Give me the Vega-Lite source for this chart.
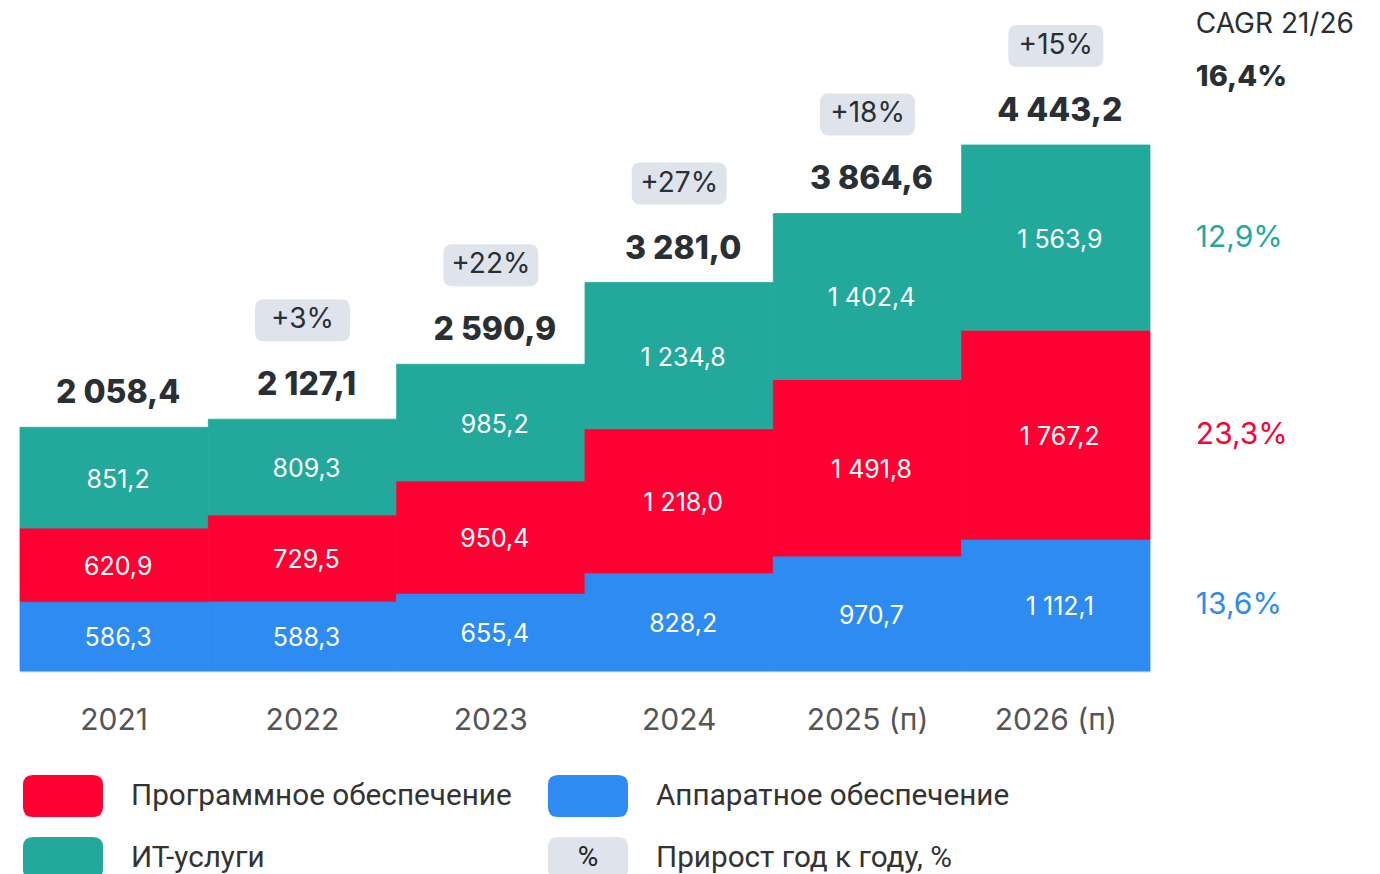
{
  "$schema": "https://vega.github.io/schema/vega-lite/v6.json",
  "width": 1130,
  "height": 671,
  "autosize": {"type": "none"},
  "padding": {"left": 20, "top": 0, "right": 230, "bottom": 203},
  "background": "white",
  "config": {"view": {"stroke": null}, "font": "Inter"},
  "datasets": {
    "bars": [
      {"year": "2021", "cat": "Аппаратное обеспечение", "ord": 1, "v": 586.3, "lab": "586,3"},
      {"year": "2021", "cat": "Программное обеспечение", "ord": 2, "v": 620.9, "lab": "620,9"},
      {"year": "2021", "cat": "ИТ-услуги", "ord": 3, "v": 851.2, "lab": "851,2"},
      {"year": "2022", "cat": "Аппаратное обеспечение", "ord": 1, "v": 588.3, "lab": "588,3"},
      {"year": "2022", "cat": "Программное обеспечение", "ord": 2, "v": 729.5, "lab": "729,5"},
      {"year": "2022", "cat": "ИТ-услуги", "ord": 3, "v": 809.3, "lab": "809,3"},
      {"year": "2023", "cat": "Аппаратное обеспечение", "ord": 1, "v": 655.4, "lab": "655,4"},
      {"year": "2023", "cat": "Программное обеспечение", "ord": 2, "v": 950.4, "lab": "950,4"},
      {"year": "2023", "cat": "ИТ-услуги", "ord": 3, "v": 985.2, "lab": "985,2"},
      {"year": "2024", "cat": "Аппаратное обеспечение", "ord": 1, "v": 828.2, "lab": "828,2"},
      {"year": "2024", "cat": "Программное обеспечение", "ord": 2, "v": 1218.0, "lab": "1 218,0"},
      {"year": "2024", "cat": "ИТ-услуги", "ord": 3, "v": 1234.8, "lab": "1 234,8"},
      {"year": "2025 (п)", "cat": "Аппаратное обеспечение", "ord": 1, "v": 970.7, "lab": "970,7"},
      {"year": "2025 (п)", "cat": "Программное обеспечение", "ord": 2, "v": 1491.8, "lab": "1 491,8"},
      {"year": "2025 (п)", "cat": "ИТ-услуги", "ord": 3, "v": 1402.4, "lab": "1 402,4"},
      {"year": "2026 (п)", "cat": "Аппаратное обеспечение", "ord": 1, "v": 1112.1, "lab": "1 112,1", "cagr": "13,6%"},
      {"year": "2026 (п)", "cat": "Программное обеспечение", "ord": 2, "v": 1767.2, "lab": "1 767,2", "cagr": "23,3%"},
      {"year": "2026 (п)", "cat": "ИТ-услуги", "ord": 3, "v": 1563.9, "lab": "1 563,9", "cagr": "12,9%"}
    ],
    "totals": [
      {"year": "2021", "total": 2058.4, "tl": "2 058,4"},
      {"year": "2022", "total": 2127.1, "tl": "2 127,1", "g": "+3%"},
      {"year": "2023", "total": 2590.9, "tl": "2 590,9", "g": "+22%"},
      {"year": "2024", "total": 3281.0, "tl": "3 281,0", "g": "+27%"},
      {"year": "2025 (п)", "total": 3864.6, "tl": "3 864,6", "g": "+18%"},
      {"year": "2026 (п)", "total": 4443.2, "tl": "4 443,2", "g": "+15%", "h1": "CAGR 21/26", "h2": "16,4%"}
    ],
    "legend": [
      {"col": "1", "row": "1", "cat": "Программное обеспечение", "sym": ""},
      {"col": "2", "row": "1", "cat": "Аппаратное обеспечение", "sym": ""},
      {"col": "1", "row": "2", "cat": "ИТ-услуги", "sym": ""},
      {"col": "2", "row": "2", "cat": "Прирост год к году, %", "sym": "%"}
    ]
  },
  "resolve": {"scale": {"x": "independent", "y": "independent"}},
  "layer": [
    {
      "layer": [
        {
          "data": {"name": "bars"},
          "mark": {"type": "bar", "strokeWidth": 0.8},
          "encoding": {
            "x": {"field": "year", "type": "nominal", "scale": {"paddingInner": 0, "paddingOuter": 0},
              "axis": {"title": null, "ticks": false, "tickSize": 0, "domainColor": "#d5dde8", "domainWidth": 2, "labelFontSize": 30, "labelColor": "#555555", "labelPadding": 34, "labelFont": "Inter", "labelAngle": 0, "grid": false}},
            "y": {"field": "v", "type": "quantitative", "stack": "zero", "scale": {"domain": [0, 5668], "nice": false, "zero": true}, "axis": null},
            "color": {"field": "cat", "type": "nominal", "legend": null,
              "scale": {"domain": ["Аппаратное обеспечение", "Программное обеспечение", "ИТ-услуги", "Прирост год к году, %"], "range": ["#2e8bf2", "#ff0033", "#22a99c", "#dfe4ec"]}},
            "stroke": {"field": "cat", "type": "nominal", "legend": null,
              "scale": {"domain": ["Аппаратное обеспечение", "Программное обеспечение", "ИТ-услуги", "Прирост год к году, %"], "range": ["#2e8bf2", "#ff0033", "#22a99c", "#dfe4ec"]}},
            "order": {"field": "ord", "type": "quantitative"}
          }
        },
        {
          "data": {"name": "bars"},
          "mark": {"type": "text", "color": "white", "fontSize": 25, "baseline": "middle", "align": "center", "dx": 4, "dy": 2},
          "encoding": {
            "x": {"field": "year", "type": "nominal"},
            "y": {"field": "v", "type": "quantitative", "stack": "zero", "bandPosition": 0.5, "scale": {"domain": [0, 5668], "nice": false}, "axis": null},
            "detail": {"field": "cat", "type": "nominal"},
            "order": {"field": "ord", "type": "quantitative"},
            "text": {"field": "lab", "type": "nominal"}
          }
        },
        {
          "data": {"name": "bars"},
          "transform": [{"filter": "isValid(datum.cagr)"}],
          "mark": {"type": "text", "fontSize": 30, "baseline": "middle", "align": "left", "dx": 140},
          "encoding": {
            "x": {"field": "year", "type": "nominal"},
            "y": {"field": "v", "type": "quantitative", "stack": "zero", "bandPosition": 0.5, "scale": {"domain": [0, 5668], "nice": false}, "axis": null},
            "color": {"field": "cat", "type": "nominal", "legend": null},
            "order": {"field": "ord", "type": "quantitative"},
            "text": {"field": "cagr", "type": "nominal"}
          }
        },
        {
          "data": {"name": "totals"},
          "mark": {"type": "text", "fontSize": 32, "fontWeight": 800, "color": "#2a2f33", "baseline": "middle", "align": "center", "dy": -34, "dx": 4},
          "encoding": {
            "x": {"field": "year", "type": "nominal"},
            "y": {"field": "total", "type": "quantitative", "scale": {"domain": [0, 5668], "nice": false}, "axis": null},
            "text": {"field": "tl", "type": "nominal"}
          }
        },
        {
          "data": {"name": "totals"},
          "transform": [{"filter": "isValid(datum.g)"}],
          "mark": {"type": "point", "shape": "M-0.81,-0.442L0.81,-0.442Q1,-0.442,1,-0.252L1,0.252Q1,0.442,0.81,0.442L-0.81,0.442Q-1,0.442,-1,0.252L-1,-0.252Q-1,-0.442,-0.81,-0.442Z", "size": 9025, "filled": true, "fill": "#dfe4ec", "opacity": 1, "strokeWidth": 0, "yOffset": -99},
          "encoding": {
            "x": {"field": "year", "type": "nominal"},
            "y": {"field": "total", "type": "quantitative", "scale": {"domain": [0, 5668], "nice": false}, "axis": null}
          }
        },
        {
          "data": {"name": "totals"},
          "transform": [{"filter": "isValid(datum.g)"}],
          "mark": {"type": "text", "fontSize": 28, "color": "#2a2f33", "baseline": "middle", "align": "center", "dy": -99},
          "encoding": {
            "x": {"field": "year", "type": "nominal"},
            "y": {"field": "total", "type": "quantitative", "scale": {"domain": [0, 5668], "nice": false}, "axis": null},
            "text": {"field": "g", "type": "nominal"}
          }
        },
        {
          "data": {"name": "totals"},
          "transform": [{"filter": "isValid(datum.h1)"}],
          "mark": {"type": "text", "fontSize": 28, "color": "#2a2f33", "baseline": "middle", "align": "left", "dx": 140, "dy": -120},
          "encoding": {
            "x": {"field": "year", "type": "nominal"},
            "y": {"field": "total", "type": "quantitative", "scale": {"domain": [0, 5668], "nice": false}, "axis": null},
            "text": {"field": "h1", "type": "nominal"}
          }
        },
        {
          "data": {"name": "totals"},
          "transform": [{"filter": "isValid(datum.h2)"}],
          "mark": {"type": "text", "fontSize": 29, "fontWeight": 800, "color": "#2a2f33", "baseline": "middle", "align": "left", "dx": 140, "dy": -68},
          "encoding": {
            "x": {"field": "year", "type": "nominal"},
            "y": {"field": "total", "type": "quantitative", "scale": {"domain": [0, 5668], "nice": false}, "axis": null},
            "text": {"field": "h2", "type": "nominal"}
          }
        }
      ]
    },
    {
      "data": {"name": "legend"},
      "layer": [
        {
          "mark": {"type": "point", "shape": "M-0.75,-0.525L0.75,-0.525Q1,-0.525,1,-0.275L1,0.275Q1,0.525,0.75,0.525L-0.75,0.525Q-1,0.525,-1,0.275L-1,-0.275Q-1,-0.525,-0.75,-0.525Z", "size": 6400, "filled": true, "opacity": 1, "strokeWidth": 0},
          "encoding": {
            "x": {"field": "col", "type": "ordinal", "scale": {"type": "point", "domain": ["1", "2"], "range": [43, 568], "padding": 0}, "axis": null},
            "y": {"field": "row", "type": "ordinal", "scale": {"type": "point", "domain": ["1", "2"], "range": [796, 858], "padding": 0}, "axis": null},
            "color": {"field": "cat", "type": "nominal", "legend": null}
          }
        },
        {
          "mark": {"type": "text", "font": "Roboto", "fontSize": 29.7, "color": "#333333", "baseline": "middle", "align": "left", "dx": 68},
          "encoding": {
            "x": {"field": "col", "type": "ordinal"},
            "y": {"field": "row", "type": "ordinal"},
            "text": {"field": "cat", "type": "nominal"}
          }
        },
        {
          "mark": {"type": "text", "font": "Roboto", "fontSize": 28, "color": "#222222", "baseline": "middle", "align": "center"},
          "encoding": {
            "x": {"field": "col", "type": "ordinal"},
            "y": {"field": "row", "type": "ordinal"},
            "text": {"field": "sym", "type": "nominal"}
          }
        }
      ]
    }
  ]
}
